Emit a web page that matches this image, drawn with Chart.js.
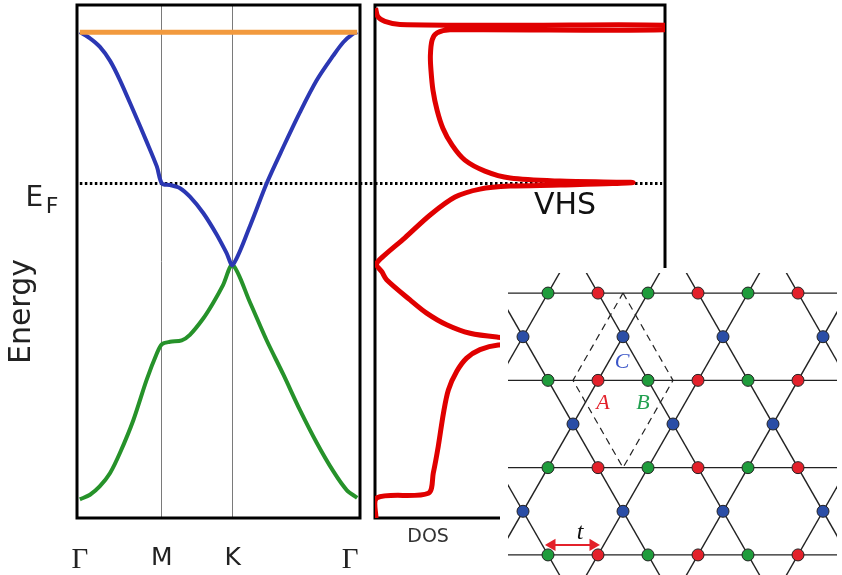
<!DOCTYPE html>
<html>
<head>
<meta charset="utf-8">
<script src="https://cdn.jsdelivr.net/npm/chart.js@4.4.1/dist/chart.umd.min.js"></script>
<style>
  html, body { margin: 0; padding: 0; background: #fff; }
  #wrap { position: relative; width: 842px; height: 575px; overflow: hidden; }
  canvas { position: absolute; top: 0; }
  #bands { left: 0; }
  #dos { left: 370px; }
  #lattice { left: 500px; top: 268px; background: #fff; }
</style>
</head>
<body>
<div id="wrap">
  <canvas id="bands" width="375" height="575"></canvas>
  <canvas id="dos" width="472" height="575"></canvas>
  <canvas id="lattice" width="342" height="307"></canvas>
</div>
<script>
// band structure, k path G-M-K-G
const kTicks = [1, 30, 55, 96.5];
const kLabels = ['Γ', 'M', 'K', 'Γ'];
const fermiE = 0.05;

const flatK = [1, 99];
const flatE = [2.0, 2.0];

const upperK = [1, 4.6, 8.1, 11.7, 15.2, 19.9, 24.6, 28.2, 30, 32.9, 36.4, 39.9, 44.6, 49.4, 52.9, 55, 61.1, 67.0, 72.9, 78.8, 84.7, 90.6, 94.1, 97.6, 99];
const upperE = [2.0, 1.92, 1.81, 1.63, 1.38, 0.99, 0.59, 0.27, 0.05, 0.03, -0.01, -0.12, -0.33, -0.61, -0.85, -1.0, -0.50, 0.05, 0.52, 0.97, 1.38, 1.70, 1.87, 1.98, 2.0];

const lowerK = [1, 4.6, 8.1, 11.7, 15.2, 19.9, 24.6, 28.2, 30, 32.9, 37.0, 39.9, 44.6, 48.1, 51.6, 55, 61.1, 67.0, 72.9, 78.8, 84.7, 90.6, 95.3, 99];
const lowerE = [-4.02, -3.96, -3.85, -3.68, -3.42, -3.0, -2.48, -2.14, -2.02, -1.99, -1.97, -1.90, -1.69, -1.49, -1.26, -1.0, -1.48, -1.97, -2.41, -2.87, -3.29, -3.66, -3.90, -4.0];

// density of states
const dosVal = [0.2, 1.0, 3.4, 8.6, 50, 100, 100, 25.9, 21.4, 19.7, 19.1, 19.3, 20.0, 21.4, 23.4, 26.6, 31.0, 37.9, 46.6, 63.8, 89,
  63.8, 46.6, 36.2, 27.6, 19.0, 10.3, 3.4, 0.5, 2.4, 4.0, 12.1, 17.8, 24.7, 32.8, 42.4, 56.9, 89,
  56.9, 42.5, 36.2, 31.6, 28.2, 25.3, 23.6, 21.8, 20.1, 18.4, 0.7, 0.35];
const dosE = [2.31, 2.20, 2.14, 2.10, 2.09, 2.09, 2.03, 2.03, 1.99, 1.90, 1.70, 1.51, 1.25, 0.995, 0.763, 0.544, 0.351, 0.21, 0.12, 0.081, 0.062,
  0.03, 0.017, -0.022, -0.125, -0.356, -0.65, -0.87, -0.987, -1.09, -1.19, -1.45, -1.62, -1.77, -1.88, -1.93, -1.97, -1.99,
  -2.02, -2.03, -2.09, -2.20, -2.37, -2.61, -2.91, -3.34, -3.68, -3.94, -4.0, -4.28];

// kagome lattice (x in half bonds, y in rows)
const sitesA = [[2,0],[6,0],[10,0],[2,2],[6,2],[10,2],[2,4],[6,4],[10,4],[2,6],[6,6],[10,6]];
const sitesB = [[0,0],[4,0],[8,0],[0,2],[4,2],[8,2],[0,4],[4,4],[8,4],[0,6],[4,6],[8,6]];
const sitesC = [[-1,1],[3,1],[7,1],[11,1],[1,3],[5,3],[9,3],[-1,5],[3,5],[7,5],[11,5]];
const rowY = [0, 2, 4, 6];
const slashC = [-6, -2, 2, 6, 10];     // x - y = c
const backC = [0, 4, 8, 12, 16];       // x + y = c
const cellX = [3, 5, 3, 1, 3];
const cellY = [6, 4, 2, 4, 6];
const hopX = [0.16, 1.8];
const hopY = [0.23, 0.23];

const pts = (xs, ys) => xs.map((x, i) => ({ x: x, y: ys[i] }));

const framePlugin = {
  id: 'frame',
  beforeDatasetsDraw(chart) {
    const a = chart.chartArea, ctx = chart.ctx;
    ctx.save();
    ctx.strokeStyle = '#000';
    ctx.lineWidth = 3;
    ctx.strokeRect(a.left, a.top, a.right - a.left, a.bottom - a.top);
    ctx.restore();
  }
};

function textPlugin(items) {
  return {
    id: 'texts',
    afterDatasetsDraw(chart) {
      const ctx = chart.ctx, sx = chart.scales.x, sy = chart.scales.y;
      items.forEach(t => {
        ctx.save();
        ctx.font = t.font;
        ctx.fillStyle = t.color || '#111';
        ctx.textAlign = t.align || 'center';
        ctx.textBaseline = 'middle';
        ctx.translate(sx.getPixelForValue(t.x), sy.getPixelForValue(t.y));
        if (t.rotate) ctx.rotate(t.rotate);
        ctx.fillText(t.text, 0, 0);
        ctx.restore();
      });
    }
  };
}

const eMin = -4.26, eMax = 2.35;

new Chart(document.getElementById('bands'), {
  type: 'scatter',
  data: {
    datasets: [
      { data: pts(flatK, flatE), showLine: true, borderColor: '#f29a3e', borderWidth: 5, pointRadius: 0 },
      { data: pts(upperK, upperE), showLine: true, borderColor: '#2b37b3', borderWidth: 4, pointRadius: 0, tension: 0.3 },
      { data: pts(lowerK, lowerE), showLine: true, borderColor: '#26922a', borderWidth: 4, pointRadius: 0, tension: 0.3 },
      { data: pts([1, 105], [fermiE, fermiE]), showLine: true, borderColor: '#000', borderWidth: 3, borderDash: [2.5, 2.5], pointRadius: 0, clip: false }
    ]
  },
  options: {
    responsive: false,
    animation: false,
    layout: { autoPadding: false, padding: { left: 77, right: 15, top: 5, bottom: 0 } },
    plugins: { legend: { display: false }, tooltip: { enabled: false } },
    scales: {
      x: {
        type: 'linear', min: 0, max: 100,
        afterBuildTicks: s => { s.ticks = kTicks.map(v => ({ value: v })); },
        afterFit: s => { s.height = 57; s.paddingLeft = 0; s.paddingRight = 0; },
        border: { display: false },
        grid: {
          drawTicks: false, lineWidth: 1,
          color: c => (c.index === 1 || c.index === 2) ? '#7a7a7a' : 'rgba(0,0,0,0)'
        },
        ticks: {
          padding: 25, color: '#222', maxRotation: 0, autoSkip: false,
          callback: (v, i) => kLabels[i],
          font: c => (c.index === 0 || c.index === 3)
            ? { family: 'Liberation Serif', size: 29 }
            : { family: 'DejaVu Sans', size: 25 }
        }
      },
      y: { type: 'linear', min: eMin, max: eMax, display: false }
    }
  },
  plugins: [framePlugin, textPlugin([
    { text: 'Energy', x: -19.4, y: -1.6, font: '30px "DejaVu Sans"', color: '#222', rotate: -Math.PI / 2 },
    { text: 'E', x: -18.2, y: -0.15, font: '28px "DejaVu Sans"', color: '#222', align: 'left' },
    { text: 'F', x: -11.0, y: -0.25, font: '22px "DejaVu Sans"', color: '#222', align: 'left' }
  ])]
});

new Chart(document.getElementById('dos'), {
  type: 'scatter',
  data: {
    datasets: [
      { data: pts(dosVal, dosE), showLine: true, borderColor: '#e00000', borderWidth: 5, pointRadius: 0, tension: 0.3 },
      { data: pts([0, 99], [fermiE, fermiE]), showLine: true, borderColor: '#000', borderWidth: 3, borderDash: [2.5, 2.5], pointRadius: 0 }
    ]
  },
  options: {
    responsive: false,
    animation: false,
    layout: { autoPadding: false, padding: { left: 5, right: 177, top: 5, bottom: 57 } },
    plugins: { legend: { display: false }, tooltip: { enabled: false } },
    scales: {
      x: { type: 'linear', min: 0, max: 100, display: false },
      y: { type: 'linear', min: eMin, max: eMax, display: false }
    }
  },
  plugins: [framePlugin, textPlugin([
    { text: 'VHS', x: 65.5, y: -0.24, font: '30px "DejaVu Sans"', color: '#111' },
    { text: 'DOS', x: 18.3, y: -4.51, font: '19px "DejaVu Sans"', color: '#333' }
  ])]
});

const latticeLines = [];
rowY.forEach(r => latticeLines.push(pts([-3, 14], [r, r])));
slashC.forEach(c => latticeLines.push(pts([c - 2, c + 9], [-2, 9])));
backC.forEach(c => latticeLines.push(pts([c + 2, c - 9], [-2, 9])));

new Chart(document.getElementById('lattice'), {
  type: 'scatter',
  data: {
    datasets: [
      { data: pts(sitesA.map(p => p[0]), sitesA.map(p => p[1])), pointRadius: 6, backgroundColor: '#e3212b', borderColor: '#222', borderWidth: 1, order: 0, clip: false },
      { data: pts(sitesB.map(p => p[0]), sitesB.map(p => p[1])), pointRadius: 6, backgroundColor: '#1f9c3c', borderColor: '#222', borderWidth: 1, order: 0, clip: false },
      { data: pts(sitesC.map(p => p[0]), sitesC.map(p => p[1])), pointRadius: 6, backgroundColor: '#2b4ea6', borderColor: '#222', borderWidth: 1, order: 0, clip: false },
      { data: pts(hopX, hopY), showLine: true, borderColor: '#e3212b', borderWidth: 2, pointStyle: 'triangle', pointRadius: 5,
        pointRotation: [-90, 90], backgroundColor: '#e3212b', pointBorderColor: '#e3212b', order: 1 },
      { data: pts(cellX, cellY), showLine: true, borderColor: '#222', borderWidth: 1.2, borderDash: [7, 5], pointRadius: 0, order: 1 },
      ...latticeLines.map(d => ({ data: d, showLine: true, borderColor: '#222', borderWidth: 1.4, pointRadius: 0, order: 2, clip: 0 }))
    ]
  },
  options: {
    responsive: false,
    animation: false,
    layout: { autoPadding: false, padding: { left: 8, right: 5, top: 5, bottom: 0 } },
    plugins: { legend: { display: false }, tooltip: { enabled: false } },
    scales: {
      x: { type: 'linear', min: -1.6, max: 11.56, display: false },
      y: { type: 'linear', min: -0.46, max: 6.46, display: false }
    }
  },
  plugins: [textPlugin([
    { text: 'C', x: 2.96, y: 4.42, font: 'italic 22px "Liberation Serif"', color: '#3a55c8' },
    { text: 'A', x: 2.2, y: 3.48, font: 'italic 22px "Liberation Serif"', color: '#e3212b' },
    { text: 'B', x: 3.8, y: 3.48, font: 'italic 22px "Liberation Serif"', color: '#22a050' },
    { text: 't', x: 1.28, y: 0.52, font: 'italic 24px "Liberation Serif"', color: '#111' }
  ])]
});
</script>
</body>
</html>
